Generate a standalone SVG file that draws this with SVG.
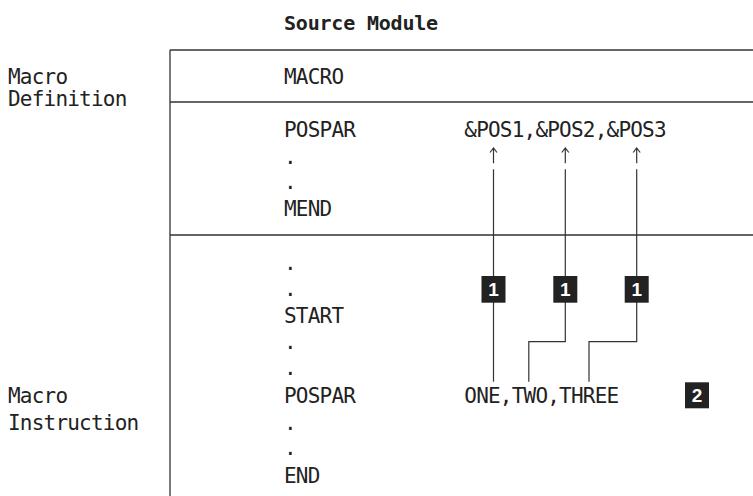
<svg xmlns="http://www.w3.org/2000/svg" width="753" height="496" viewBox="0 0 753 496">
<style>
.t{font-family:"DejaVu Sans Mono","Liberation Mono",monospace;font-size:21px;letter-spacing:-0.79px;fill:#222}
.b{font-family:"DejaVu Sans Mono","Liberation Mono",monospace;font-size:20px;letter-spacing:-0.2px;font-weight:bold;fill:#222}
.frame{stroke:#333;stroke-width:1.3;fill:none}
.conn{stroke:#333;stroke-width:1.2;fill:none}
.badge{fill:#222}
.bt{font-family:"Liberation Sans","DejaVu Sans",sans-serif;font-size:19px;font-weight:bold;fill:#fff;text-anchor:middle}
</style>
<rect width="753" height="496" fill="#fff"/>
<g id="title"><text class="b" x="284" y="30">Source Module</text></g>
<g id="frame">
<path class="frame" d="M170,50H753M170,102H753M170,235H753M170,50V496"/>
</g>
<g id="label-definition">
<text class="t" x="8" y="84">Macro</text>
<text class="t" x="8" y="106">Definition</text>
</g>
<g id="label-instruction">
<text class="t" x="8" y="403.3">Macro</text>
<text class="t" x="8" y="430">Instruction</text>
</g>
<g id="macro-header"><text class="t" x="284" y="84">MACRO</text></g>
<g id="macro-definition">
<text class="t" x="284" y="137">POSPAR</text>
<text class="t" x="464.3" y="137">&amp;POS1,&amp;POS2,&amp;POS3</text>
<text class="t" x="284" y="164">.</text>
<text class="t" x="284" y="188.5">.</text>
<text class="t" x="284" y="215.5">MEND</text>
</g>
<g id="macro-instruction">
<text class="t" x="284" y="270">.</text>
<text class="t" x="284" y="296">.</text>
<text class="t" x="284" y="323.3">START</text>
<text class="t" x="284" y="349">.</text>
<text class="t" x="284" y="375">.</text>
<text class="t" x="284" y="403.3">POSPAR</text>
<text class="t" x="464.3" y="403.3">ONE,TWO,THREE</text>
<text class="t" x="284" y="429.5">.</text>
<text class="t" x="284" y="455">.</text>
<text class="t" x="284" y="483.3">END</text>
</g>
<g id="connectors">
<path class="conn" d="M493.5,148V163.3M490,152.5L493.5,148L497,152.5"/>
<path class="conn" d="M565.3,148V163.3M561.8,152.5L565.3,148L568.8,152.5"/>
<path class="conn" d="M636.7,148V163.3M633.2,152.5L636.7,148L640.2,152.5"/>
<path class="conn" d="M493.5,169.3V381.7"/>
<path class="conn" d="M565.3,169.3V341.7H528.8V381.7"/>
<path class="conn" d="M636.7,169.3V341.7H589V381.7"/>
</g>
<g id="badge-1a"><rect class="badge" x="481.5" y="276" width="24" height="26.7"/><text class="bt" x="493.5" y="296.3">1</text></g>
<g id="badge-1b"><rect class="badge" x="553.3" y="276" width="24" height="26.7"/><text class="bt" x="565.3" y="296.3">1</text></g>
<g id="badge-1c"><rect class="badge" x="624.7" y="276" width="24" height="26.7"/><text class="bt" x="636.7" y="296.3">1</text></g>
<g id="badge-2"><rect class="badge" x="685" y="382.3" width="24" height="26"/><text class="bt" x="697" y="402.3">2</text></g>
</svg>
